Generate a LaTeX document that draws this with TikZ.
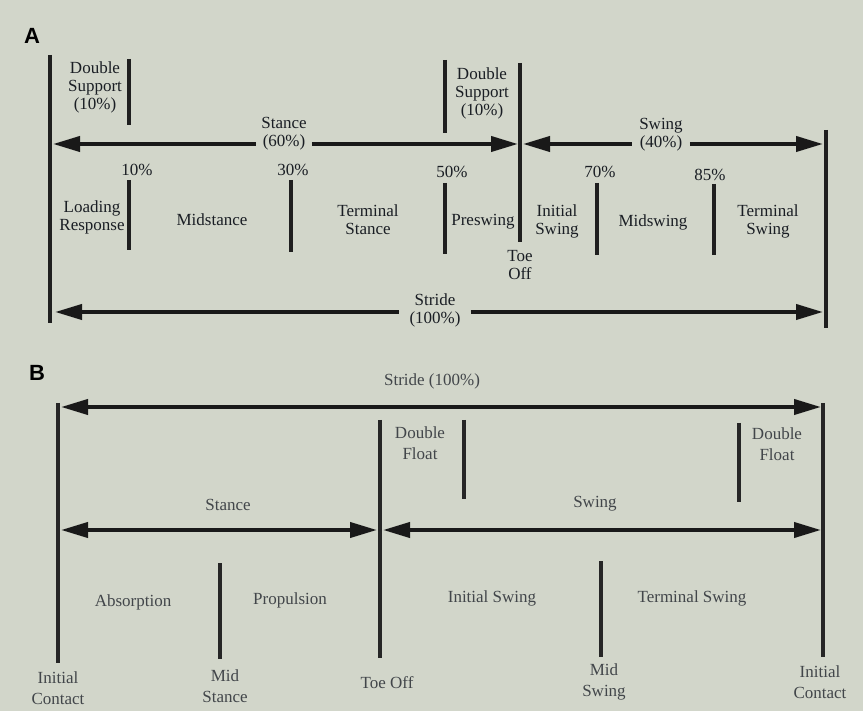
\documentclass[tikz,border=0pt]{standalone}
\usepackage{fontspec}
\setmainfont{Liberation Serif}
\newfontfamily\panelfont{Liberation Sans}
\usetikzlibrary{arrows.meta}
\definecolor{paper}{RGB}{210,214,202}
\definecolor{inkA}{RGB}{26,30,36}
\definecolor{inkB}{RGB}{66,70,74}
\tikzstyle{phase}=[align=center, inner sep=2pt, text=inkA, font=\fontsize{17}{18}\selectfont]
\tikzstyle{phaseB}=[phase, text=inkB, font=\fontsize{17}{21}\selectfont]
\tikzstyle{panel}=[inner sep=0pt, font=\panelfont\bfseries\fontsize{22}{22}\selectfont]
\tikzset{bar/.style={line width=4pt, draw=black!88},
  barB/.style={line width=3.5pt, draw=black!85},
  span/.style={line width=4pt, draw=black!90, fill=black!90}}

\begin{document}
\begin{tikzpicture}[x=1pt,y=-1pt,>={Triangle[length=27pt,width=15pt]}]
  \fill[paper] (0,0) rectangle (863,711);
  \useasboundingbox (0,0) rectangle (863,711);

  % ---- A: phases in percent
  \node[panel] (labA) at (32,36) {A};
  \draw[bar] (50,55) -- (50,323);
  \draw[bar] (520,63) -- (520,242);
  \draw[bar] (826,130) -- (826,328);
  \draw[bar] (129,59) -- (129,125);
  \draw[bar] (445,60) -- (445,133);
  \foreach \x/\t/\b in {129/180/250, 291/180/252, 445/183/254, 597/183/255, 714/184/255}
    \draw[bar] (\x,\t) -- (\x,\b);

  \node[phase] (dsA1) at (95,87) {Double\\Support\\(10\%)};
  \node[phase] (dsA2) at (482,93) {Double\\Support\\(10\%)};
  \node[phase] (p10) at (137,170) {10\%};
  \node[phase] (p30) at (293,170) {30\%};
  \node[phase] (p50) at (452,172) {50\%};
  \node[phase] (p70) at (600,172) {70\%};
  \node[phase] (p85) at (710,175) {85\%};
  \node[phase] (lr) at (92,217) {Loading\\Response};
  \node[phase] (mst) at (212,220) {Midstance};
  \node[phase] (tst) at (368,220) {Terminal\\Stance};
  \node[phase] (psw) at (483,222) {Preswing};
  \node[phase] (isw) at (557,221) {Initial\\Swing};
  \node[phase] (msw) at (653,222) {Midswing};
  \node[phase] (tsw) at (768,221) {Terminal\\Swing};
  \node[phase] (toeA) at (520,265) {Toe\\Off};

  \coordinate (icA) at (53,144);
  \coordinate (toL) at (518,144);
  \coordinate (toR) at (523,144);
  \coordinate (icA2) at (823,144);
  \node[phase, inner xsep=5pt] (stA) at (284,134) {Stance\\(60\%)};
  \node[phase, inner xsep=7pt] (swA) at (661,135) {Swing\\(40\%)};
  \draw[span,<-] (icA) -- (stA.west |- icA);
  \draw[span,->] (stA.east |- icA) -- (toL);
  \draw[span,<-] (toR) -- (swA.west |- toR);
  \draw[span,->] (swA.east |- toR) -- (icA2);

  \coordinate (sdL) at (55,312);
  \coordinate (sdR) at (823,312);
  \node[phase, inner xsep=10pt] (sdA) at (435,310) {Stride\\(100\%)};
  \draw[span,<-] (sdL) -- (sdA.west |- sdL);
  \draw[span,->] (sdA.east |- sdL) -- (sdR);

  % ---- B: events
  \node[panel] (labB) at (37,373) {B};
  \draw[barB] (58,403) -- (58,663);
  \draw[barB] (380,420) -- (380,658);
  \draw[barB] (823,403) -- (823,657);
  \draw[barB] (464,420) -- (464,499);
  \draw[barB] (739,423) -- (739,502);
  \draw[barB] (220,563) -- (220,659);
  \draw[barB] (601,561) -- (601,657);

  \node[phaseB] (sdB) at (432,381) {Stride (100\%)};
  \node[phaseB] (dfB1) at (420,443) {Double\\Float};
  \node[phaseB] (dfB2) at (777,444) {Double\\Float};
  \node[phaseB] (stB) at (228,505) {Stance};
  \node[phaseB] (swB) at (595,504) {Swing};
  \node[phaseB] (abs) at (133,602) {Absorption};
  \node[phaseB] (pro) at (290,600) {Propulsion};
  \node[phaseB] (iswB) at (492,598) {Initial Swing};
  \node[phaseB] (tswB) at (692,598) {Terminal Swing};
  \node[phaseB] (icB1) at (58,688) {Initial\\Contact};
  \node[phaseB] (msB) at (225,686) {Mid\\Stance};
  \node[phaseB] (toeB) at (387,683) {Toe Off};
  \node[phaseB] (mswB) at (604,682) {Mid\\Swing};
  \node[phaseB] (icB2) at (820,682) {Initial\\Contact};

  \coordinate (sbL) at (61,407);
  \coordinate (sbR) at (821,407);
  \draw[span,<->] (sbL) -- (sbR);
  \coordinate (stL) at (61,530);
  \coordinate (stR) at (377,530);
  \coordinate (swL) at (383,530);
  \coordinate (swR) at (821,530);
  \draw[span,<->] (stL) -- (stR);
  \draw[span,<->] (swL) -- (swR);
\end{tikzpicture}
\end{document}
